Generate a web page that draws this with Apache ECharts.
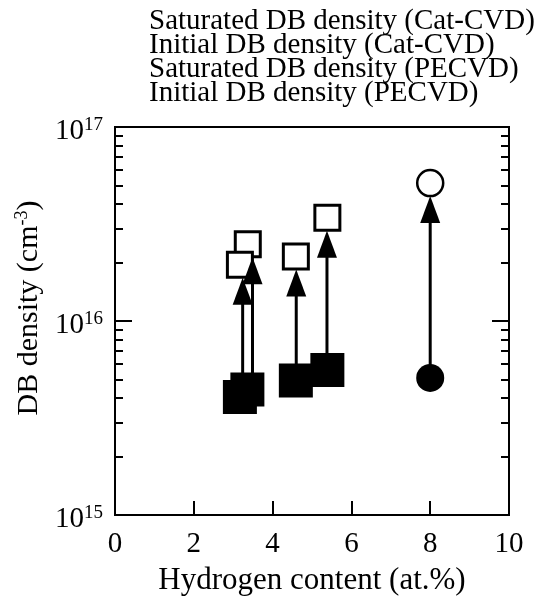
<!DOCTYPE html>
<html>
<head>
<meta charset="utf-8">
<script src="https://cdn.jsdelivr.net/npm/echarts@6/dist/echarts.min.js"></script>
<style>html,body{margin:0;padding:0;background:#fff}#c{width:550px;height:601px}</style>
</head>
<body>
<div id="c"></div>
<script>
// Data
const seriesNames = ['Saturated DB density (Cat-CVD)', 'Initial DB density (Cat-CVD)', 'Saturated DB density (PECVD)', 'Initial DB density (PECVD)'];
const satCatX = [3.37, 3.17, 4.59, 5.39];
const satCatY = [2.49e16, 1.95e16, 2.15e16, 3.41e16];
const initCatX = [3.36, 3.17, 4.59, 5.39];
const initCatY = [4.44e15, 4.06e15, 4.93e15, 5.59e15];
const satPeX = [8.0];
const satPeY = [5.14e16];
const initPeX = [8.0];
const initPeY = [5.09e15];
const arrowX = [3.24, 3.49, 4.60, 5.38, 8.0];
const arrowFrom = [4.06e15, 4.44e15, 4.93e15, 5.59e15, 5.09e15];
const arrowTo = [1.95e16, 2.49e16, 2.15e16, 3.41e16, 5.14e16];
const xTicks = [0, 2, 4, 6, 8, 10];
const yMajor = [1e15, 1e16, 1e17];
const yMinor = [2e15, 3e15, 4e15, 5e15, 6e15, 7e15, 8e15, 9e15, 2e16, 3e16, 4e16, 5e16, 6e16, 7e16, 8e16, 9e16];

const FONT = "'Liberation Serif','Times New Roman',serif";
const zip = (a, b) => a.map((v, i) => [v, b[i]]);

const chart = echarts.init(document.getElementById('c'), null, {renderer: 'canvas'});
const supLabel = v => '{b|10}{s|' + Math.round(Math.log10(v)) + '}';
const labelRich = {
  b: {fontFamily: FONT, fontSize: 29, color: '#000', lineHeight: 30, verticalAlign: 'bottom'},
  s: {fontFamily: FONT, fontSize: 19, color: '#000', lineHeight: 30, verticalAlign: 'top', padding: [0,0,14,0]}
};
function yAx(pos, major, withLabel) {
  return {
    type: 'log', logBase: 10, min: 1e15, max: 1e17, position: pos,
    axisLine: {show: major, lineStyle: {color: '#000', width: 2}},
    axisTick: {show: true, inside: true, length: major ? 17 : 8, customValues: major ? yMajor : yMinor,
               lineStyle: {color: '#000', width: 2}},
    axisLabel: {show: withLabel, customValues: yMajor, formatter: supLabel, rich: labelRich, margin: 12,
                padding: [8, 0, 0, 0]},
    splitLine: {show: false},
    name: withLabel ? 'DB density (cm{sup|-3})' : '',
    nameLocation: 'middle', nameGap: 68, nameRotate: 90,
    nameTextStyle: {fontFamily: FONT, fontSize: 30, color: '#000', padding: [0, 0, 0, 26],
      rich: {sup: {fontFamily: FONT, fontSize: 18, color: '#000', verticalAlign: 'top', padding: [0,0,14,0]}}}
  };
}

chart.setOption({
  animation: false,
  backgroundColor: '#fff',
  grid: {left: 115, right: 41, top: 127, bottom: 79, show: true, borderColor: '#000', borderWidth: 2},
  legend: {
    orient: 'vertical', left: 143, top: 7, itemWidth: 0, itemHeight: 0, itemGap: -5, padding: 0,
    selectedMode: false, data: seriesNames,
    textStyle: {fontFamily: FONT, fontSize: 29, color: '#000'}
  },
  xAxis: {
    type: 'value', min: 0, max: 10, interval: 2,
    axisLine: {lineStyle: {color: '#000', width: 2}},
    axisTick: {inside: true, length: 14, lineStyle: {color: '#000', width: 2}},
    axisLabel: {fontFamily: FONT, fontSize: 29, color: '#000', margin: 15,
      customValues: xTicks, formatter: v => String(v)},
    splitLine: {show: false},
    name: 'Hydrogen content (at.%)', nameLocation: 'middle', nameGap: 50,
    nameTextStyle: {fontFamily: FONT, fontSize: 31, color: '#000'}
  },
  yAxis: [yAx('left', true, true), yAx('left', false, false), yAx('right', true, false), yAx('right', false, false)],
  series: [
    {name: seriesNames[0], type: 'scatter', z: 2, symbol: 'rect', symbolSize: 25,
     itemStyle: {color: '#fff', borderColor: '#000', borderWidth: 3, opacity: 1},
     data: zip(satCatX, satCatY)},
    {name: seriesNames[2], type: 'scatter', z: 2, symbol: 'circle', symbolSize: 26,
     itemStyle: {color: '#fff', borderColor: '#000', borderWidth: 2.5, opacity: 1},
     data: zip(satPeX, satPeY)},
    {type: 'custom', z: 3, silent: true,
     encode: {x: 0, y: [1, 2]},
     data: arrowX.map((x, i) => [x, arrowFrom[i], arrowTo[i]]),
     renderItem: function (params, api) {
       const p0 = api.coord([api.value(0), api.value(1)]);
       const p1 = api.coord([api.value(0), api.value(2)]);
       const tipY = p1[1] + 13, headH = 27, headW = 20;
       return {type: 'group', children: [
         {type: 'line', shape: {x1: p0[0], y1: p0[1], x2: p0[0], y2: tipY + headH - 2},
          style: {stroke: '#000', lineWidth: 3}},
         {type: 'polygon', shape: {points: [[p1[0], tipY], [p1[0] - headW / 2, tipY + headH], [p1[0] + headW / 2, tipY + headH]]},
          style: {fill: '#000'}}
       ]};
     }},
    {name: seriesNames[1], type: 'scatter', z: 4, symbol: 'rect', symbolSize: 34,
     itemStyle: {color: '#000', opacity: 1},
     data: zip(initCatX, initCatY)},
    {name: seriesNames[3], type: 'scatter', z: 4, symbol: 'circle', symbolSize: 28,
     itemStyle: {color: '#000', opacity: 1},
     data: zip(initPeX, initPeY)}
  ]
});
</script>
</body>
</html>
